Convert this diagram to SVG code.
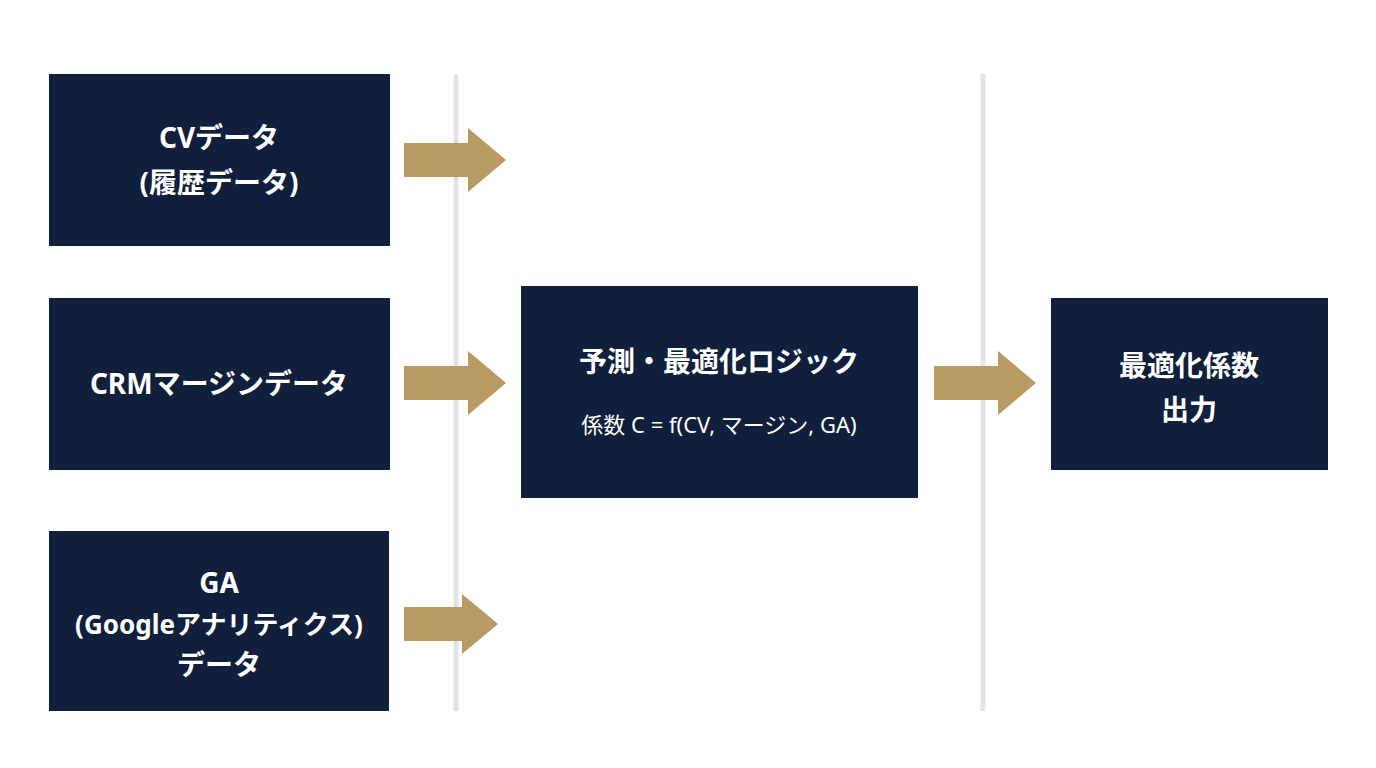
<svg xmlns="http://www.w3.org/2000/svg" width="1376" height="768" viewBox="0 0 1376 768">
<style>
.box{fill:#101f3b}
.t{fill:#fff;font-family:"Noto Sans","Noto Sans CJK JP",sans-serif;font-weight:bold;font-size:28px;text-anchor:middle}
.s{fill:#fff;font-family:"Noto Sans","Noto Sans CJK JP",sans-serif;font-size:22px;text-anchor:middle}
.arr{fill:#b89a62}
.div{stroke:#e1e3e8;stroke-width:5}
</style>
<rect width="1376" height="768" fill="#fff"/>
<g id="dividers"><line class="div" x1="456" y1="74" x2="456" y2="711"/><line class="div" x1="983" y1="74" x2="983" y2="711"/></g>
<g id="n1"><rect class="box" x="49" y="74" width="341" height="172"/><text class="t" x="219" y="148">CVデータ</text><text class="t" x="219" y="193">(履歴データ)</text></g>
<g id="n2"><rect class="box" x="49" y="298" width="341" height="172"/><text class="t" x="219" y="394">CRMマージンデータ</text></g>
<g id="n3"><rect class="box" x="49" y="531" width="340" height="180"/><text class="t" x="219" y="593">GA</text><text class="t" x="219" y="634" style="font-size:26px">(Googleアナリティクス)</text><text class="t" x="219" y="675">データ</text></g>
<g id="n4"><rect class="box" x="521" y="286" width="397" height="212"/><text class="t" x="719" y="372">予測・最適化ロジック</text><text class="s" x="719" y="433">係数 C = f(CV, マージン, GA)</text></g>
<g id="n5"><rect class="box" x="1051" y="298" width="277" height="172"/><text class="t" x="1189" y="376">最適化係数</text><text class="t" x="1189" y="420">出力</text></g>
<g id="connectors">
<polygon class="arr" points="404,143 468,143 468,128 506,160 468,192 468,177 404,177"/>
<polygon class="arr" points="404,366 468,366 468,351 506,383 468,415 468,400 404,400"/>
<polygon class="arr" points="404,607 462,607 462,594 498,624 462,654 462,641 404,641"/>
<polygon class="arr" points="934,366 998,366 998,351 1036,383 998,415 998,400 934,400"/>
</g>
</svg>
